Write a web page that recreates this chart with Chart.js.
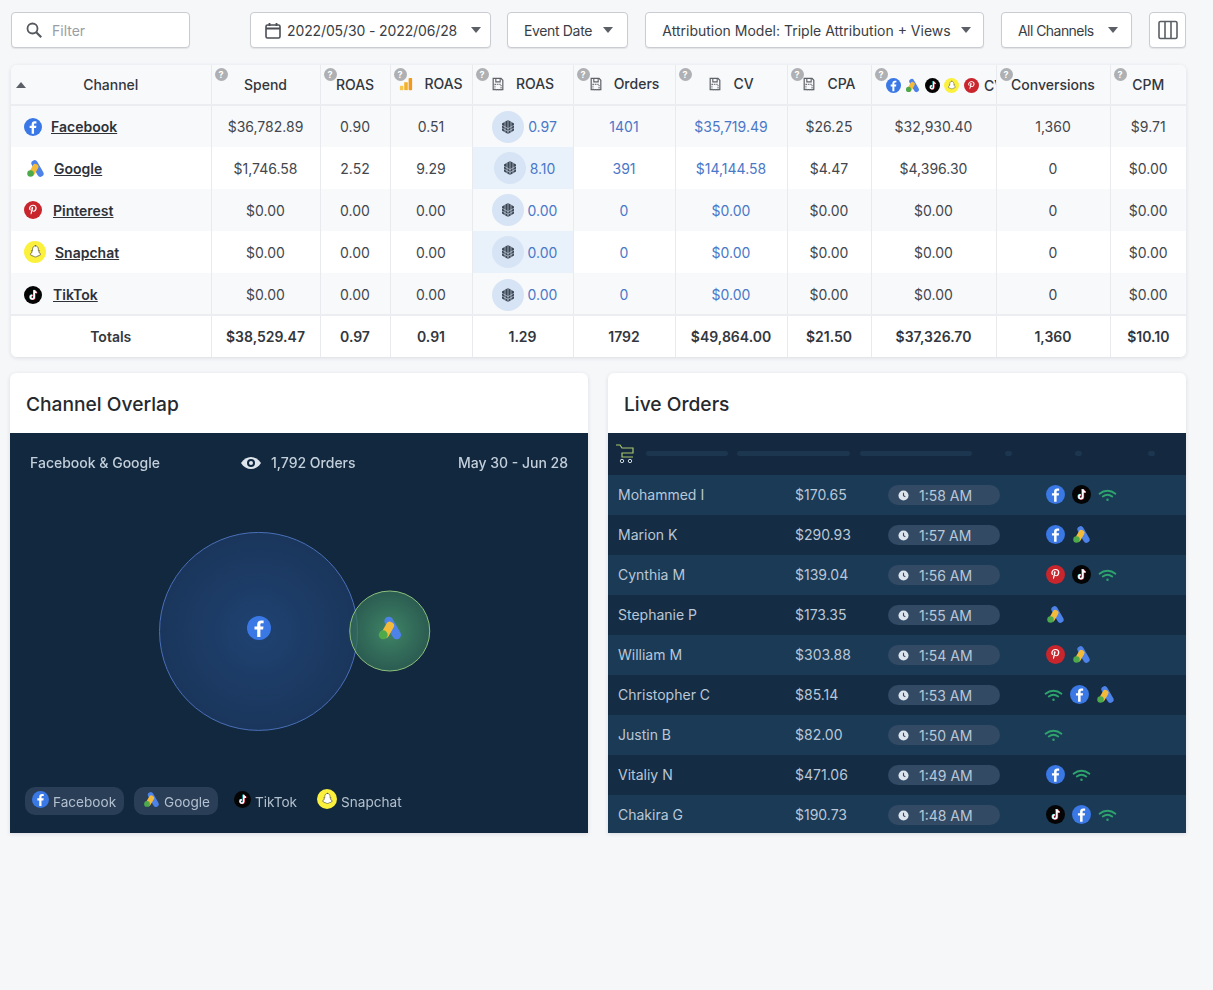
<!DOCTYPE html>
<html>
<head>
<meta charset="utf-8">
<title>Channel Overlap</title>
<script src="https://cdn.jsdelivr.net/npm/chart.js@4"></script>
<style>
  * { box-sizing: border-box; }
  html, body { margin: 0; height: 100%; }
  body { width: 1213px; height: 990px; overflow: hidden; position: relative; background: #f6f7f9; font-family: Inter, "Noto Sans", sans-serif; font-size: 14px; color: #33373d; }
  svg { display: block; flex: none; }

  /* barra superior */
  .ctl { position: absolute; top: 12px; height: 36px; background: #fff; border: 1px solid #c9ccd1; border-radius: 4px; box-shadow: 0 1px 1px rgba(0,0,0,.08); display: flex; align-items: center; justify-content: center; gap: 4px; padding-left: 4px; white-space: nowrap; color: #3a3e44; }
  .caret { width: 0; height: 0; border: 5px solid transparent; border-top: 6px solid #5c6066; border-bottom: 0; margin-left: 6px; }

  /* tabla */
  #card { position: absolute; left: 11px; top: 65px; width: 1175px; background: #fff; border-radius: 6px; box-shadow: 0 1px 4px rgba(30,40,60,.13); overflow: hidden; }
  table { border-collapse: collapse; table-layout: fixed; width: 1175px; }
  th, td { text-align: center; padding: 0; border-left: 1px solid #e8eaee; white-space: nowrap; position: relative; }
  th:first-child, td:first-child { border-left: 0; }
  th { height: 40px; background: #f8f9fb; font-weight: 500; color: #33373d; border-bottom: 2px solid #ebedf0; overflow: hidden; }
  td { height: 42px; color: #43474d; }
  tbody tr:nth-child(odd) td { background: #f8f9fb; }
  tbody tr:nth-child(even) td.hl { background: #e9f2fb; }
  tbody tr:nth-child(5) td { padding-top: 2px; }
  tr.totals td { background: #fff !important; font-weight: 600; border-top: 2px solid #ebedf0; color: #33373d; }
  .blue { color: #4a78c8; }
  .q { position: absolute; left: 3px; top: 3px; width: 13px; height: 13px; border-radius: 50%; background: #aeb0b3; color: #fff; font-size: 9px; line-height: 13px; font-weight: 700; text-align: center; }
  .hd { display: inline-flex; align-items: center; gap: 11px; }
  .chan { display: flex; align-items: center; font-weight: 600; text-decoration: underline; color: #2e3238; }
  .roasCell { display: flex; align-items: center; justify-content: center; gap: 4px; padding-left: 4px; }
  .cube { width: 32px; height: 32px; border-radius: 50%; background: #d7e4f5; display: flex; align-items: center; justify-content: center; }

  /* paneles */
  .panel { position: absolute; top: 373px; width: 578px; height: 460px; border-radius: 6px 6px 0 0; box-shadow: 0 1px 4px rgba(30,40,60,.13); background: #fff; overflow: hidden; }
  .panel h2 { margin: 0; height: 60px; line-height: 62px; padding-left: 16px; font-size: 19.200px; font-weight: 500; color: #26292e; }
  .dark { position: absolute; left: 0; top: 60px; width: 578px; height: 400px; background: #12283e; color: #c3cfdb; }
  #bubbles { position: absolute; left: 0; top: 0; }
  .abs { position: absolute; white-space: nowrap; }
  .pill { position: absolute; top: 354px; height: 28px; border-radius: 10px; background: #2a3f57; }
  .lg { position: absolute; display: flex; align-items: center; gap: 4px; top: 358px; height: 22px; font-size: 13.600px; color: #b3c0ce; }
  .lg svg { transform: translateY(-3px); }
  .row { position: absolute; left: 0; width: 578px; height: 40px; color: #b9c7d6; }
  .row:nth-child(odd) { background: #1a3a56; }
  .row:nth-child(even) { background: #142c44; }
  .icons { position: absolute; left: 438px; top: 10px; display: flex; gap: 7px; }
  .time { position: absolute; left: 280px; top: 10px; width: 112px; height: 20px; border-radius: 10px; background: #324a64; display: flex; align-items: center; padding-left: 10px; gap: 10px; }
  .skel { position: absolute; top: 18px; height: 5px; border-radius: 3px; background: #1d3650; }
</style>
</head>
<body>
<!-- iconos de canales -->
<svg width="0" height="0" style="position:absolute">
  <defs>
    <symbol id="facebook" viewBox="0 0 24 24"><circle cx="12" cy="12" r="12" fill="#3a78e6"/><path d="M13.4 21v-7.6h2.7l.4-3h-3.1V8.6c0-.9.3-1.4 1.5-1.4h1.7V4.5c-.4 0-1.300-.1-2.400-.1-2.400 0-4 1.400-4 4v2H7.500v3h2.700V21z" fill="#fff"/></symbol>
    <symbol id="google" viewBox="1.500 2 20 21"><rect x="10.200" y="2.500" width="7" height="20" rx="3.500" transform="rotate(-30 13.700 12.500)" fill="#4d82e8"/><rect x="6.300" y="7" width="6.500" height="14" rx="3" transform="rotate(30 9.500 14)" fill="#f4bb3a"/><circle cx="6" cy="18" r="3.600" fill="#4ea94b"/></symbol>
    <symbol id="pinterest" viewBox="0 0 24 24"><circle cx="12" cy="12" r="12" fill="#c9252d"/><path d="M12.300 5c-3.700 0-5.600 2.500-5.600 4.700 0 1.300.5 2.500 1.600 2.900.2.100.3 0 .4-.2l.2-.6c0-.2 0-.3-.1-.5-.3-.4-.5-.8-.5-1.500 0-1.900 1.400-3.600 3.700-3.600 2 0 3.100 1.200 3.100 2.900 0 2.200-1 4-2.400 4-.8 0-1.400-.7-1.200-1.400.2-1 .7-2 .7-2.700 0-.6-.3-1.100-1-1.100-.8 0-1.400.8-1.400 1.900 0 .7.200 1.200.2 1.200l-1 4.100c-.3 1.200 0 2.700 0 2.800 0 .100.100.100.200.100.100-.100 1-1.300 1.400-2.500l.5-2.100c.300.500 1 .900 1.800.900 2.400 0 4-2.200 4-5.100C16.900 6.900 15 5 12.300 5z" fill="#fff"/></symbol>
    <symbol id="snapchat" viewBox="0 0 24 24"><circle cx="12" cy="12" r="12" fill="#fbf13c"/><path d="M12 5.200c2.200 0 3.700 1.600 3.700 3.700l-.1 1.800 1.300-.2c.4.300.2.700-.8 1.100.3 1.400 1.300 2.300 2.400 2.800-.2.700-1 .6-1.700 1l-.4.800c-.9-.1-1.500.1-2.300.700-1.100.6-2.100.6-3.200 0-.8-.6-1.400-.8-2.300-.7l-.4-.8c-.7-.4-1.500-.3-1.700-1 1.100-.5 2.100-1.400 2.400-2.800-1-.4-1.200-.8-.8-1.100l1.300.2-.1-1.800c0-2.100 1.500-3.700 3.700-3.700z" fill="#fff" stroke="#46443a" stroke-width=".7"/></symbol>
    <symbol id="tiktok" viewBox="0 0 24 24"><circle cx="12" cy="12" r="12" fill="#050505"/><path d="M13.700 5.500v9.300a2.500 2.500 0 1 1-2.500-2.500" fill="none" stroke="#25f4ee" stroke-width="2" transform="translate(-.7 -.3)"/><path d="M13.700 5.500c.2 2 1.300 3.100 3.300 3.300" fill="none" stroke="#25f4ee" stroke-width="2" transform="translate(-.7 -.3)"/><path d="M13.700 5.500v9.300a2.500 2.500 0 1 1-2.500-2.500" fill="none" stroke="#fe2c55" stroke-width="2" transform="translate(.7 .3)"/><path d="M13.700 5.500c.2 2 1.300 3.100 3.300 3.300" fill="none" stroke="#fe2c55" stroke-width="2" transform="translate(.7 .3)"/><path d="M13.700 5.500v9.300a2.500 2.500 0 1 1-2.500-2.500M13.700 5.500c.2 2 1.300 3.100 3.300 3.300" fill="none" stroke="#fff" stroke-width="2"/></symbol>
    <symbol id="wifi" viewBox="0 0 24 24"><g fill="none" stroke="#2fa36d" stroke-width="2.400" stroke-linecap="round"><path d="M2 11c6-5 14-5 20 0"/><path d="M6 14.500c4-3 8-3 12 0"/></g><circle cx="12" cy="18.500" r="1.600" fill="#2fa36d"/></symbol>
    <symbol id="pixel" viewBox="0 0 16 16"><path d="M2.500 1.500h9l2 2.200V14.500h-11z" fill="none" stroke="#5f6368" stroke-width="1.400"/><path d="M5.500 1.500v4h5v-4" fill="none" stroke="#5f6368" stroke-width="1.300"/><path d="M4.500 8.500h7v6h-7z" fill="none" stroke="#6f7378" stroke-width="1.300" stroke-dasharray="1.500 1"/></symbol>
    <symbol id="bars" viewBox="0 0 16 16"><rect x="1" y="10" width="4" height="5" rx="1" fill="#f7c64c"/><rect x="6" y="6" width="4" height="9" fill="#f3ae2c"/><rect x="11" y="1" width="4" height="14" rx="1" fill="#ee9a1c"/></symbol>
    <symbol id="cube" viewBox="0 0 16 16"><path d="M8 1l6 3.400v7.200L8 15l-6-3.400V4.400z" fill="#3d4654"/><path d="M2 6.200l6 3.400 6-3.400M2 9l6 3.400L14 9M5 2.800v10.400M11 2.800v10.400M8 1v14" stroke="#d7e4f5" stroke-width=".6" fill="none"/></symbol>
    <symbol id="clock" viewBox="0 0 12 12"><circle cx="6" cy="6" r="5.500" fill="#dde4ec"/><path d="M6 3v3.300l2 1" stroke="#324a64" stroke-width="1.200" fill="none"/></symbol>
  </defs>
</svg>

<div class="ctl" style="left:11px;width:179px;justify-content:flex-start;padding-left:13px;gap:9px;color:#9a9ea3">
  <svg width="18" height="18" viewBox="0 0 18 18"><circle cx="7.500" cy="7.500" r="5" fill="none" stroke="#55595f" stroke-width="1.800"/><path d="M11.200 11.200l5 5" stroke="#55595f" stroke-width="2.200"/></svg>Filter
</div>
<div class="ctl" style="left:250px;width:241px;justify-content:flex-start;padding-left:14px;gap:6px;letter-spacing:-.12px">
  <svg width="16" height="17" viewBox="0 0 16 17"><rect x="1" y="3" width="14" height="13" rx="1.500" fill="none" stroke="#4a4e54" stroke-width="1.600"/><path d="M1 6.500h14M4.500 1v3M11.500 1v3" stroke="#4a4e54" stroke-width="1.800"/></svg>
  2022/05/30 - 2022/06/28<span class="caret" style="margin-left:8px"></span>
</div>
<div class="ctl" style="left:507px;width:121px;justify-content:flex-start;padding-left:16px;letter-spacing:-.35px">Event Date<span class="caret" style="margin-left:auto;margin-right:14px"></span></div>
<div class="ctl" style="left:645px;width:339px">Attribution Model: Triple Attribution + Views<span class="caret"></span></div>
<div class="ctl" style="left:1001px;width:131px;justify-content:flex-start;padding-left:16px;letter-spacing:-.55px">All Channels<span class="caret" style="margin-left:auto;margin-right:13px"></span></div>
<div class="ctl" style="left:1149px;width:37px;padding-left:0">
  <svg width="20" height="20" viewBox="0 0 20 20"><rect x="1" y="1.500" width="18" height="17" rx="1.500" fill="none" stroke="#5b5f65" stroke-width="1.600"/><path d="M7 1.500v17M13 1.500v17" stroke="#5b5f65" stroke-width="1.600"/></svg>
</div>

<div id="card"><table id="tbl"></table></div>

<div class="panel" style="left:10px">
  <h2>Channel Overlap</h2>
  <div class="dark">
    <canvas id="bubbles" width="578" height="400"></canvas>
    <div class="abs" style="left:20px;top:21px;font-weight:500">Facebook &amp; Google</div>
    <svg class="abs" style="left:230px;top:20px" width="22" height="20" viewBox="0 0 22 20"><path d="M1 10c5-8 15-8 20 0-5 8-15 8-20 0z" fill="#dfe5ec"/><circle cx="11" cy="10" r="4" fill="#12283e"/><circle cx="11" cy="10" r="2" fill="#dfe5ec"/></svg>
    <div class="abs" style="left:261px;top:21px;font-weight:500" id="orderCount"></div>
    <div class="abs" style="right:20px;top:21px;font-weight:500">May 30 - Jun 28</div>
    <div class="pill" style="left:15px;width:99px"></div>
    <div class="pill" style="left:124px;width:84px"></div>
    <div id="legend"></div>
    <div id="bubbleIcons"></div>
  </div>
</div>

<div class="panel" style="left:608px">
  <h2>Live Orders</h2>
  <div class="dark" style="background:#14293f">
    <svg class="abs" style="left:7px;top:10px" width="20" height="21" viewBox="0 0 20 21"><path d="M1 2h4l2 3h11v5H7v4h11" fill="none" stroke="#a9c66c" stroke-width="1.200"/><circle cx="7" cy="18" r="1.700" fill="none" stroke="#cfd8e0"/><circle cx="15" cy="18" r="1.700" fill="none" stroke="#cfd8e0"/></svg>
    <div class="skel" style="left:38px;width:82px"></div>
    <div class="skel" style="left:129px;width:113px"></div>
    <div class="skel" style="left:252px;width:112px"></div>
    <div class="skel" style="left:397px;width:7px"></div>
    <div class="skel" style="left:467px;width:7px"></div>
    <div class="skel" style="left:540px;width:7px"></div>
    <div id="rows" style="position:absolute;left:0;top:42px;width:578px"></div>
  </div>
</div>

<script>
// ── Tabla de canales ─────────────────────────────────────────────────
const channels    = ['Facebook', 'Google', 'Pinterest', 'Snapchat', 'TikTok'];
const spend       = ['$36,782.89', '$1,746.58', '$0.00', '$0.00', '$0.00'];
const roas        = ['0.90', '2.52', '0.00', '0.00', '0.00'];
const roasGa      = ['0.51', '9.29', '0.00', '0.00', '0.00'];
const roasPixel   = ['0.97', '8.10', '0.00', '0.00', '0.00'];
const orders      = ['1401', '391', '0', '0', '0'];
const cv          = ['$35,719.49', '$14,144.58', '$0.00', '$0.00', '$0.00'];
const cpa         = ['$26.25', '$4.47', '$0.00', '$0.00', '$0.00'];
const cvChannels  = ['$32,930.40', '$4,396.30', '$0.00', '$0.00', '$0.00'];
const conversions = ['1,360', '0', '0', '0', '0'];
const cpm         = ['$9.71', '$0.00', '$0.00', '$0.00', '$0.00'];
const totals      = ['Totals', '$38,529.47', '0.97', '0.91', '1.29', '1792', '$49,864.00', '$21.50', '$37,326.70', '1,360', '$10.10'];

// ── Burbujas de Channel Overlap ──────────────────────────────────────
const overlapChannels = ['Facebook', 'Google'];
const overlapX        = [43, 65.7];
const overlapY        = [50.4, 50.5];
const overlapRadius   = [99, 40];
const overlapOrders   = '1,792 Orders';
const legendChannels  = ['Facebook', 'Google', 'TikTok', 'Snapchat'];

// ── Live Orders ──────────────────────────────────────────────────────
const buyers     = ['Mohammed I', 'Marion K', 'Cynthia M', 'Stephanie P', 'William M', 'Christopher C', 'Justin B', 'Vitaliy N', 'Chakira G'];
const amounts    = ['$170.65', '$290.93', '$139.04', '$173.35', '$303.88', '$85.14', '$82.00', '$471.06', '$190.73'];
const times      = ['1:58 AM', '1:57 AM', '1:56 AM', '1:55 AM', '1:54 AM', '1:53 AM', '1:50 AM', '1:49 AM', '1:48 AM'];
const orderIcons = [
  ['facebook', 'tiktok', 'wifi'], ['facebook', 'google'], ['pinterest', 'tiktok', 'wifi'],
  ['google'], ['pinterest', 'google'], ['wifi', 'facebook', 'google'],
  ['wifi'], ['facebook', 'wifi'], ['tiktok', 'facebook', 'wifi'],
];

const icon = (name, size) => `<svg width="${size}" height="${size}"><use href="#${name}"/></svg>`;

// ── Armar la tabla ───────────────────────────────────────────────────
function buildTable() {
  const widths = [200, 109, 70, 82, 101, 102, 112, 84, 125, 114, 76];
  const q = '<span class="q">?</span>';
  const withIcon = (ic, text) => `${q}<span class="hd">${icon(ic, 14)}${text}</span>`;
  const chanIcons = ['facebook', 'google', 'tiktok', 'snapchat', 'pinterest'].map(n => icon(n, 15)).join('');
  const head = [
    '<span style="position:absolute;left:5px;top:17px;border:5px solid transparent;border-bottom:6px solid #5c6066;border-top:0"></span>Channel',
    `${q}Spend`, `${q}ROAS`, withIcon('bars', 'ROAS'), withIcon('pixel', 'ROAS'), withIcon('pixel', 'Orders'),
    withIcon('pixel', 'CV'), withIcon('pixel', 'CPA'),
    `${q}<span style="position:absolute;left:14px;top:12px;display:flex;gap:4.500px;align-items:center">${chanIcons}<span style="margin-left:1px">CV</span></span>`,
    `${q}Conversions`, `${q}CPM`,
  ];
  let html = '<colgroup>' + widths.map(w => `<col style="width:${w}px">`).join('') + '</colgroup>';
  html += '<thead><tr>' + head.map(h => `<th>${h}</th>`).join('') + '</tr></thead><tbody>';
  // tamaño, margen izquierdo y separación del icono de cada canal
  const chanStyle = { Facebook: [18, 13, 9], Google: [19, 15, 9], Pinterest: [18, 13, 11], Snapchat: [22, 13, 9], TikTok: [18, 13, 11] };
  channels.forEach((c, i) => {
    const [size, left, gap] = chanStyle[c];
    html += `<tr>
      <td><div class="chan" style="padding-left:${left}px;gap:${gap}px">${icon(c.toLowerCase(), size)}${c}</div></td>
      <td>${spend[i]}</td><td>${roas[i]}</td><td>${roasGa[i]}</td>
      <td class="hl"><div class="roasCell"><span class="cube">${icon('cube', 16)}</span><span class="blue">${roasPixel[i]}</span></div></td>
      <td class="blue">${orders[i]}</td><td class="blue">${cv[i]}</td><td>${cpa[i]}</td>
      <td>${cvChannels[i]}</td><td>${conversions[i]}</td><td>${cpm[i]}</td></tr>`;
  });
  html += '<tr class="totals">' + totals.map(t => `<td>${t}</td>`).join('') + '</tr></tbody>';
  document.getElementById('tbl').innerHTML = html;
}

function buildOrders() {
  document.getElementById('rows').innerHTML = buyers.map((b, i) => `
    <div class="row" style="top:${i * 40}px">
      <span class="abs" style="left:10px;top:11px">${b}</span>
      <span class="abs" style="left:187px;top:11px">${amounts[i]}</span>
      <span class="time">${icon('clock', 11)}${times[i]}</span>
      <span class="icons" style="margin-left:${orderIcons[i][0] === 'wifi' ? -2 : 0}px">${orderIcons[i].map(n => icon(n, 19)).join('')}</span>
    </div>`).join('');
}

function buildLegend() {
  const lefts = [22, 133, 224, 307];
  document.getElementById('legend').innerHTML = legendChannels.map((c, i) =>
    `<div class="lg" style="left:${lefts[i]}px">${icon(c.toLowerCase(), c === 'Snapchat' ? 20 : 17)}${c}</div>`).join('');
  document.getElementById('orderCount').textContent = overlapOrders;
}

// ── Gradiente radial de cada burbuja ─────────────────────────────────
function bubbleFill(ctx) {
  const { chart, dataIndex } = ctx;
  const sx = chart.scales.x, sy = chart.scales.y;
  if (!sx || !sy || dataIndex === undefined) return 'transparent';
  const x = sx.getPixelForValue(overlapX[dataIndex]);
  const y = sy.getPixelForValue(overlapY[dataIndex]);
  if (!Number.isFinite(x) || !Number.isFinite(y)) return 'transparent';
  const r = overlapRadius[dataIndex];
  const g = chart.ctx.createRadialGradient(x, y, 0, x, y, r);
  if (dataIndex === 0) {
    g.addColorStop(0, 'rgba(36,76,132,.75)');
    g.addColorStop(1, 'rgba(32,64,112,.6)');
  } else {
    g.addColorStop(0, 'rgba(72,150,110,.85)');
    g.addColorStop(1, 'rgba(52,110,88,.75)');
  }
  return g;
}

// Iconos centrados sobre cada burbuja
const bubbleIconPlugin = {
  id: 'bubbleIcon',
  afterDatasetsDraw(chart) {
    const holder = document.getElementById('bubbleIcons');
    holder.innerHTML = chart.getDatasetMeta(0).data.map((el, i) => {
      const size = i === 0 ? 24 : 26;
      return `<div class="abs" style="left:${el.x - size / 2}px;top:${el.y - size / 2 - 3}px">${icon(overlapChannels[i].toLowerCase(), size)}</div>`;
    }).join('');
  },
};

function renderBubbles() {
  new Chart(document.getElementById('bubbles'), {
    type: 'bubble',
    data: {
      labels: overlapChannels,
      datasets: [{
        label: 'Channel Overlap',
        data: overlapChannels.map((c, i) => ({ x: overlapX[i], y: overlapY[i], r: overlapRadius[i] })),
        backgroundColor: bubbleFill,
        borderColor: ['#4a6fb8', '#8cc07c'],
        borderWidth: 1,
        hoverRadius: 0,
      }],
    },
    options: {
      responsive: false,
      animation: false,
      clip: false,
      layout: { padding: 0, autoPadding: false },
      plugins: { legend: { display: false }, tooltip: { enabled: false } },
      scales: {
        x: { type: 'linear', min: 0, max: 100, display: false },
        y: { type: 'linear', min: 0, max: 100, display: false },
      },
    },
    plugins: [bubbleIconPlugin],
  });
}

buildTable();
buildOrders();
buildLegend();
renderBubbles();
</script>
</body>
</html>
